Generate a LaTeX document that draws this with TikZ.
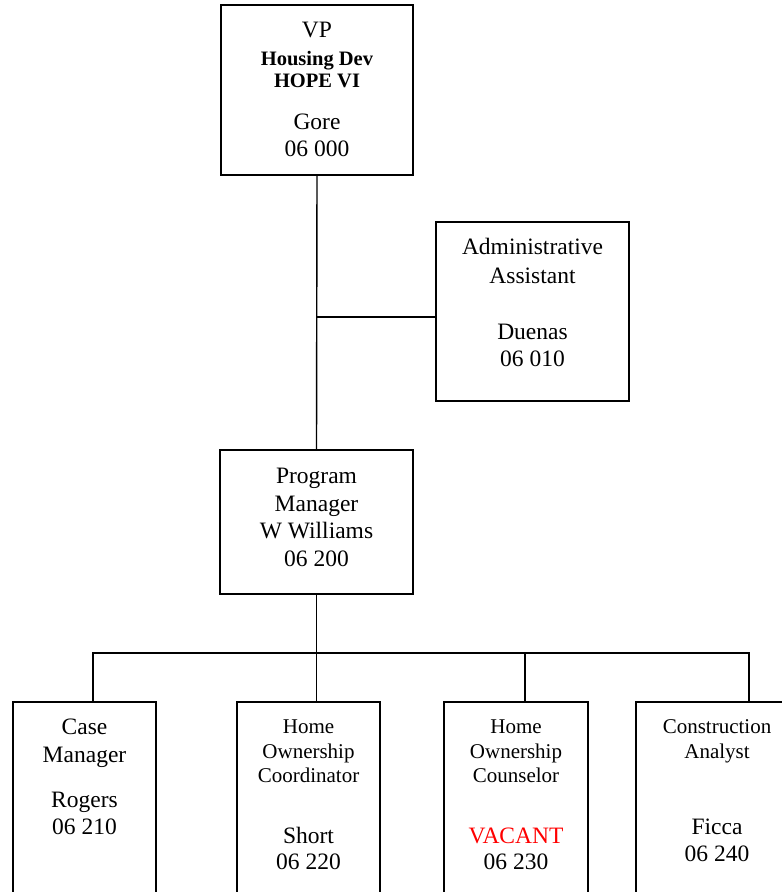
\documentclass[tikz,border=0pt]{standalone}
\usepackage{fontspec}
\setmainfont{Liberation Serif}
\usetikzlibrary{positioning}

\begin{document}
\begin{tikzpicture}[
  x=1pt,y=-1pt,
  line width=1.4pt,
  box/.style={draw,inner sep=0pt,outer sep=0pt},
  txt/.style={inner sep=0pt,align=center,font=\fontsize{23.5}{27.7}\selectfont}
]
\useasboundingbox (0,0) rectangle (782,892);
\clip (0,0) rectangle (782,892);

% boxes
\node[box,minimum width=192pt,minimum height=170pt] (vp) at (317,90) {};
\node[box,minimum width=193pt,minimum height=179pt] (admin) at (532.5,311.5) {};
\node[box,minimum width=193pt,minimum height=144pt] (pm) at (316.5,522) {};
\node[box,minimum width=143pt,minimum height=258pt] (cm) at (84.5,831) {};
\node[box,minimum width=143pt,minimum height=258pt] (hoc) at (308.5,831) {};
\node[box,minimum width=144pt,minimum height=258pt] (hocs) at (516,831) {};
\node[box,minimum width=240pt,minimum height=258pt] (ca) at (756,831) {};

% texts
\node[txt,below=16.3pt of vp.north] (vp-t) {VP\\
  {\fontsize{20.5}{22}\selectfont\bfseries Housing Dev}\\[-5.7pt]
  {\fontsize{20.5}{22}\selectfont\bfseries HOPE VI}\\[14.3pt]
  Gore\\06 000};
\node[txt,below=15pt of admin.north] (admin-t) {Administrative\\[1.3pt]
  Assistant\\[28.3pt]Duenas\\06 010};
\node[txt,below=17.3pt of pm.north] (pm-t) {Program\\Manager\\W Williams\\06 200};
\node[txt,below=16.1pt of cm.north] (cm-t) {Case\\Manager\\[17.3pt]Rogers\\06 210};
\node[txt,below=16.6pt of hoc.north] (hoc-t) {{\fontsize{21}{24}\selectfont Home}\\[-2.7pt]
  {\fontsize{21}{24}\selectfont Ownership}\\[-3.7pt]
  {\fontsize{21}{24}\selectfont Coordinator}\\[33.3pt]
  Short\\[-1.7pt]06 220};
\node[txt,below=16.6pt of hocs.north] (hocs-t) {{\fontsize{21}{24}\selectfont Home}\\[-2.7pt]
  {\fontsize{21}{24}\selectfont Ownership}\\[-3.7pt]
  {\fontsize{21}{24}\selectfont Counselor}\\[33.3pt]
  \textcolor{red}{VACANT}\\[-1.7pt]06 230};
\node[txt,below=16.5pt of ca.north,xshift=-39pt] (ca-t) {{\fontsize{21}{24}\selectfont Construction}\\[-2.7pt]
  {\fontsize{21}{24}\selectfont Analyst}\\[48.3pt]
  Ficca\\06 240};

% connectors
\coordinate (aj) at (317,317);
\coordinate (bus) at ([yshift=-59pt]pm.south);
\draw (vp.south) -- (pm.north);
\draw (aj) -- (aj -| admin.west);
\draw (pm.south) -- (pm.south |- hoc.north);
\draw ([xshift=8.5pt]cm.north) |- (bus) -| ([xshift=-7pt]ca.north);
\draw ([xshift=9pt]hocs.north) -- ([xshift=9pt]hocs.north |- bus);
\end{tikzpicture}
\end{document}
